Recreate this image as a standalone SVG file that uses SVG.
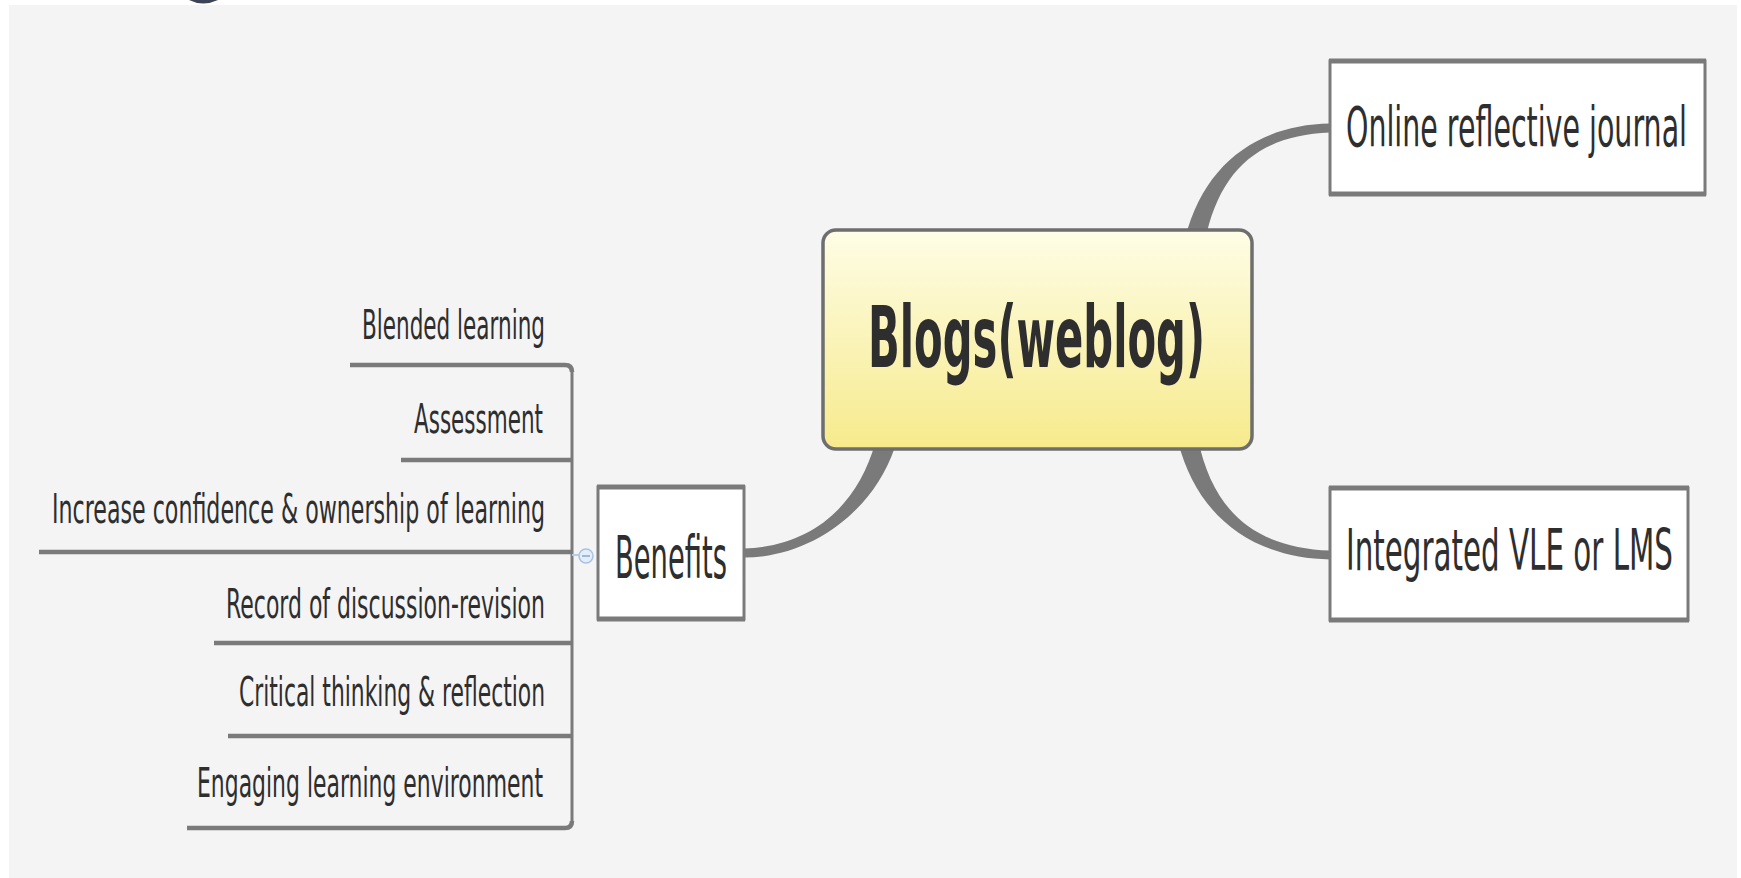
<svg xmlns="http://www.w3.org/2000/svg" width="1741" height="878" viewBox="0 0 1741 878">
<defs>
<linearGradient id="centralFill" x1="0" y1="0" x2="0" y2="1">
<stop offset="0" stop-color="#fefde6"/>
<stop offset="1" stop-color="#f7ea8c"/>
</linearGradient>
<style>
.bg{fill:#f4f4f4}
.conn{fill:#7a7a7a}
.tree{fill:none;stroke:#7a7a7a;stroke-width:4.5;stroke-linecap:butt}
.vbar{fill:none;stroke:#7a7a7a;stroke-width:3}
.box{fill:#ffffff;stroke:#7a7a7a;stroke-width:3}
.edge{stroke:#7a7a7a;stroke-width:5}
.lbl{font-family:"DejaVu Sans","Liberation Sans",sans-serif;fill:#2e2e2e}
.child{font-family:"DejaVu Sans","Liberation Sans",sans-serif;fill:#2e2e2e;font-size:40px}
</style>
</defs>
<rect x="0" y="0" width="1741" height="878" fill="#ffffff"/>
<rect class="bg" x="9" y="5" width="1728" height="873"/>
<path d="M189,0 Q203,7 218,0 Z" fill="#3d4356"/>

<g id="connectors">
<path class="conn" d="M1185.25,237.8 C1204.2,163.2 1258.4,124.7 1330,123.5 L1330,132.5 C1261.6,135.3 1219.8,166.8 1204.75,242.2 Z"/>
<path class="conn" d="M1178.25,442.2 C1197.2,516.8 1253.3,558.2 1330,559.5 L1330,550.5 C1256.7,547.8 1212.8,513.2 1197.75,437.8 Z"/>
<path class="conn" d="M875.4,442.1 C857.4,507.6 810,546.5 744,548.5 L744,557.5 C810,557.5 872.6,512.4 894.6,447.9 Z"/>
<path class="tree" d="M350,365 H565 Q572,365 572,372"/>
<path class="tree" d="M572,821 Q572,828 565,828 H187"/>
<path class="vbar" d="M572,370 V823"/>
<path class="tree" d="M401,460 H572"/>
<path class="tree" d="M39,552 H572"/>
<path class="tree" d="M214,643 H572"/>
<path class="tree" d="M228,736 H572"/>
<path d="M572,555 H580" stroke="#b9cce6" stroke-width="2"/>
</g>

<g id="central">
<rect x="823" y="230" width="429" height="219" rx="13" ry="13" fill="url(#centralFill)" stroke="#6e6e6e" stroke-width="3.5"/>
<text class="lbl" transform="scale(0.5,1)" x="1736" y="367" font-size="86" font-weight="bold" textLength="674" lengthAdjust="spacingAndGlyphs" fill="#333330">Blogs(weblog)</text>
</g>

<g id="online">
<rect class="box" x="1330" y="61" width="375" height="133"/>
<line class="edge" x1="1329" y1="61" x2="1706" y2="61"/>
<line class="edge" x1="1329" y1="194" x2="1706" y2="194"/>
<text class="lbl" transform="scale(0.5,1)" x="2692" y="146" font-size="55" textLength="682" lengthAdjust="spacingAndGlyphs">Online reflective journal</text>
</g>

<g id="integrated">
<rect class="box" x="1330" y="488" width="358" height="132"/>
<line class="edge" x1="1329" y1="488" x2="1689" y2="488"/>
<line class="edge" x1="1329" y1="620" x2="1689" y2="620"/>
<text class="lbl" transform="scale(0.5,1)" x="2692" y="570" font-size="57" textLength="654" lengthAdjust="spacingAndGlyphs">Integrated VLE or LMS</text>
</g>

<g id="benefits">
<rect class="box" x="598" y="487" width="146" height="132"/>
<line class="edge" x1="597" y1="487" x2="745" y2="487"/>
<line class="edge" x1="597" y1="619" x2="745" y2="619"/>
<text class="lbl" transform="scale(0.5,1)" x="1230" y="578" font-size="59" textLength="224" lengthAdjust="spacingAndGlyphs">Benefits</text>
<circle cx="586" cy="556" r="7" fill="#e4eefa" stroke="#a9c2e2" stroke-width="1.5"/>
<line x1="582" y1="556" x2="590" y2="556" stroke="#8aa6cc" stroke-width="1.5"/>
</g>

<g id="blended"><text class="child" transform="scale(0.5,1)" x="724" y="339" textLength="366" lengthAdjust="spacingAndGlyphs">Blended learning</text></g>
<g id="assessment"><text class="child" transform="scale(0.5,1)" x="828" y="433" textLength="258" lengthAdjust="spacingAndGlyphs">Assessment</text></g>
<g id="increase"><text class="child" transform="scale(0.5,1)" x="104" y="523" textLength="986" lengthAdjust="spacingAndGlyphs">Increase confidence &amp; ownership of learning</text></g>
<g id="record"><text class="child" transform="scale(0.5,1)" x="452" y="618" textLength="638" lengthAdjust="spacingAndGlyphs">Record of discussion-revision</text></g>
<g id="critical"><text class="child" transform="scale(0.5,1)" x="478" y="706" textLength="612" lengthAdjust="spacingAndGlyphs">Critical thinking &amp; reflection</text></g>
<g id="engaging"><text class="child" transform="scale(0.5,1)" x="394" y="797" textLength="692" lengthAdjust="spacingAndGlyphs">Engaging learning environment</text></g>
</svg>
